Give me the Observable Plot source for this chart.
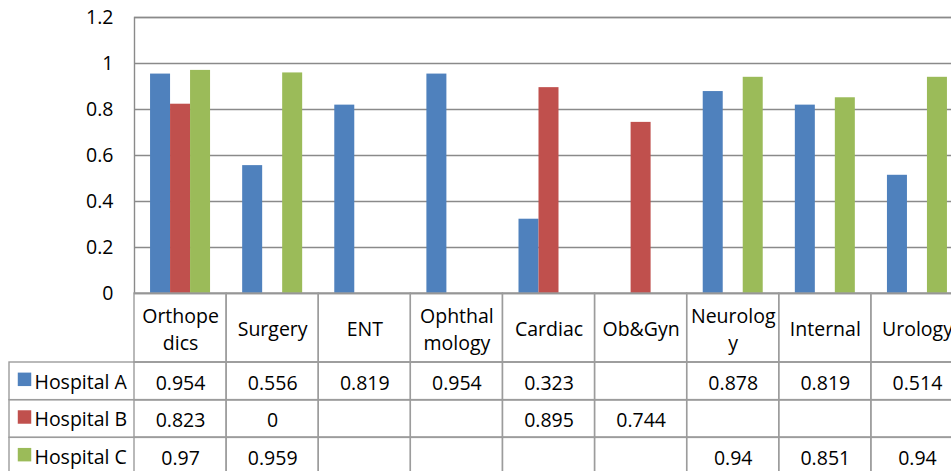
<!DOCTYPE html>
<html>
<head>
<meta charset="utf-8">
<script src="https://cdn.jsdelivr.net/npm/d3@7"></script>
<script src="https://cdn.jsdelivr.net/npm/@observablehq/plot@0.6"></script>
<style>
  html, body { margin: 0; padding: 0; background: #fff; overflow: hidden; }
  #wrap { position: relative; width: 951px; height: 471px; overflow: hidden; }
  #wrap svg { position: absolute; left: 0; max-width: none !important; }
</style>
</head>
<body>
<div id="wrap"></div>
<script>
const categories = ["Orthopedics", "Surgery", "ENT", "Ophthalmology", "Cardiac", "Ob&Gyn", "Neurology", "Internal", "Urology"];
const categoryLabels = ["Orthope\ndics", "Surgery", "ENT", "Ophthal\nmology", "Cardiac", "Ob&Gyn", "Neurolog\ny", "Internal", "Urology"];
const seriesNames = ["Hospital A", "Hospital B", "Hospital C"];
const seriesColors = ["#4F81BD", "#C0504D", "#9BBB59"];
const hospitalA = [0.954, 0.556, 0.819, 0.954, 0.323, null, 0.878, 0.819, 0.514];
const hospitalB = [0.823, 0, null, null, 0.895, 0.744, null, null, null];
const hospitalC = [0.97, 0.959, null, null, null, null, 0.94, 0.851, 0.94];
const yTicks = [0, 0.2, 0.4, 0.6, 0.8, 1, 1.2];
const yTickLabels = ["0", "0.2", "0.4", "0.6", "0.8", "1", "1.2"];

const seriesValues = [hospitalA, hospitalB, hospitalC];
const rows = [];
seriesValues.forEach((vals, s) => vals.forEach((v, i) => rows.push({series: seriesNames[s], category: categories[i], value: v})));

const W = 965, ML = 134, MR = 2;
const bw = (W - ML - MR) / categories.length;
const barW = 20;
const FS = 19.5;
const font = {fontFamily: "'Open Sans', sans-serif", fontSize: FS + "px", overflow: "visible", background: "transparent", color: "#000", maxWidth: "none"};
const gridColor = "#8a8a8a";
const tableColor = "#9c9c9c";
const xScale = {type: "band", domain: categories, padding: 0, round: false};

// Chart
const barMarks = seriesNames.map((name, s) => {
  const offset = (s - 1) * barW; // center offset of this series' bar in the group
  return Plot.barY(rows.filter(d => d.series === name && d.value != null), {
    x: "category", y: "value", fill: seriesColors[s],
    insetLeft: bw / 2 - barW / 2 + offset,
    insetRight: bw / 2 - barW / 2 - offset
  });
});

const chart = Plot.plot({
  width: W, height: 300,
  marginTop: 17, marginBottom: 7, marginLeft: ML, marginRight: MR,
  style: font,
  x: {...xScale, axis: null},
  y: {domain: [0, 1.2], axis: null},
  marks: [
    Plot.ruleY(yTicks, {stroke: gridColor, strokeWidth: 1.4}),
    Plot.frame({stroke: gridColor, strokeWidth: 1.4}),
    ...barMarks,
    Plot.axisY({ticks: yTicks, tickSize: 0, tickPadding: 21, label: null, tickFormat: (d, i) => yTickLabels[i], fontSize: FS})
  ]
});
chart.style.top = "0px";

// Header row (category labels)
const header = Plot.plot({
  width: W, height: 69,
  marginTop: 0, marginBottom: 0, marginLeft: ML, marginRight: MR,
  style: font,
  x: {...xScale, axis: null},
  marks: [
    Plot.cell(categories, {x: d => d, fill: "none", stroke: tableColor, strokeWidth: 1.4}),
    Plot.text(categories, {x: d => d, text: (d, i) => categoryLabels[i], frameAnchor: "middle", lineAnchor: "middle", lineHeight: 1.35, fontSize: FS, fill: "#000"})
  ]
});
header.style.top = "293px";

// Data table rows
const table = Plot.plot({
  width: W, height: 113,
  marginTop: 0, marginBottom: 0, marginLeft: ML, marginRight: MR,
  style: font,
  x: {...xScale, axis: null},
  y: {type: "band", domain: seriesNames, padding: 0, round: false, axis: null},
  color: {domain: seriesNames, range: seriesColors},
  marks: [
    Plot.cell(seriesNames, {y: d => d, fill: "none", stroke: tableColor, strokeWidth: 1.4, insetLeft: -(ML - 9)}),
    Plot.cell(rows, {x: "category", y: "series", fill: "none", stroke: tableColor, strokeWidth: 1.4}),
    Plot.text(rows.filter(d => d.value != null), {x: "category", y: "series", text: d => String(d.value), fontSize: FS, dy: 2, fill: "#000"}),
    Plot.dot(seriesNames, {y: d => d, frameAnchor: "left", symbol: "square", r: 7.6, fill: d => d, stroke: "none", dx: 24 - ML, dy: -2}),
    Plot.text(seriesNames, {y: d => d, text: d => d, frameAnchor: "left", textAnchor: "start", dx: 34 - ML, dy: 1, fontSize: FS, fill: "#000"})
  ]
});
table.style.top = "362px";

const wrap = document.getElementById("wrap");
wrap.append(chart, header, table);
</script>
</body>
</html>
